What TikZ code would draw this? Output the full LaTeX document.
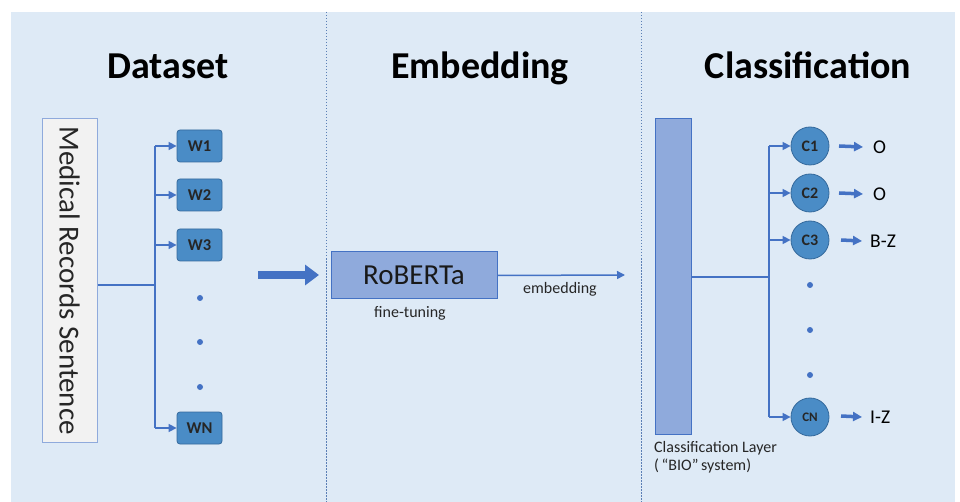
\documentclass[tikz,border=0pt]{standalone}
\usepackage{fontspec}
\setmainfont{Carlito}
\usetikzlibrary{arrows.meta}
\definecolor{bgblue}{HTML}{DEEAF6}
\definecolor{lineblue}{HTML}{4472C4}
\definecolor{boxfill}{HTML}{8FAADC}
\definecolor{wfill}{HTML}{4A8CC6}
\definecolor{wborder}{HTML}{34699C}
\definecolor{divider}{HTML}{5B7FB5}
\tikzset{
  title/.style={font=\bfseries\fontsize{38}{40}\selectfont, text=black, anchor=base},
  wbox/.style={draw=wborder, line width=0.8pt, fill=wfill, rounded corners=3pt, minimum width=45pt, minimum height=32pt, inner sep=0pt, font=\bfseries\fontsize{16.5}{17}\selectfont, text=black!85},
  cnode/.style={circle, draw=wborder, line width=0.8pt, fill=wfill, minimum size=38pt, inner sep=0pt, font=\bfseries\fontsize{16}{17}\selectfont, text=black!85},
  bus/.style={draw=lineblue, line width=1.5pt},
  busarrow/.style={draw=lineblue, line width=1.5pt, -{Triangle[length=8pt,width=8pt]}},
  thickarrow/.style={draw=lineblue, line width=3.5pt, -{Triangle[length=9pt,width=9pt]}},
  dotnode/.style={circle, fill=lineblue, inner sep=0pt, minimum size=6pt},
  lbl/.style={font=\fontsize{16}{18}\selectfont, text=black!85},
  outlbl/.style={font=\fontsize{19.5}{21}\selectfont, text=black, anchor=west, inner sep=0pt},
}
\begin{document}
\begin{tikzpicture}[x=1pt,y=-1pt]
\useasboundingbox (0,0) rectangle (960,502);
\fill[white] (0,0) rectangle (960,502);
\fill[bgblue] (11,12) rectangle (955,502);
\draw[divider, line width=1pt, dash pattern=on 1.5pt off 1.5pt] (326,12) -- (326,502);
\draw[divider, line width=1pt, dash pattern=on 1.5pt off 1.5pt] (641,12) -- (641,502);

% titles
\node[title] (t1) at (168,79) {Dataset};
\node[title] (t2) at (480,79) {Embedding};
\node[title] (t3) at (808,79) {Classification};

% Dataset
\node[draw=boxfill, line width=1pt, fill=white!95!black, minimum width=55pt, minimum height=323pt, inner sep=0pt] (mrs) at (69.5,280.5) {};
\node[rotate=-90, font=\fontsize{29}{31}\selectfont, text=black!85] (mrstext) at (mrs.center) {Medical Records Sentence};

\node[wbox] (w1) at (199.5,146) {W1};
\node[wbox] (w2) at (199.5,195) {W2};
\node[wbox] (w3) at (199.5,245) {W3};
\node[wbox] (wn) at (199.5,428) {WN};
\node[dotnode] (d1) at (200,298) {};
\node[dotnode] (d2) at (200,342) {};
\node[dotnode] (d3) at (200,387) {};

\coordinate (bj) at (155,285);
\coordinate (bt) at (155,146);
\coordinate (bb) at (155,428);
\draw[bus] (mrs.east |- bj) -- (bj);
\draw[bus] (bt) -- (bb);
\draw[busarrow] (bt) -- (w1.west);
\draw[busarrow] (155,195) -- (w2.west);
\draw[busarrow] (155,245) -- (w3.west);
\draw[busarrow] (bb) -- (wn.west);

% big arrow
\coordinate (ba1) at (258,275);
\coordinate (ba2) at (319,275);
\draw[draw=lineblue, line width=8pt, -{Triangle[length=14pt,width=20pt]}] (ba1) -- (ba2);

% Embedding
\node[draw=lineblue, line width=1pt, fill=boxfill, minimum width=166pt, minimum height=47pt, inner sep=0pt, font=\fontsize{29}{31}\selectfont, text=black!90] (rob) at (414,275.5) {RoBERTa};
\node[lbl] (ft) at (410,313) {fine-tuning};
\coordinate (embend) at (625,275);
\draw[busarrow] (rob.east) -- (embend);
\node[lbl] (emb) at (560,289) {embedding};

% Classification
\node[draw=lineblue, line width=1pt, fill=boxfill, minimum width=36pt, minimum height=315pt, inner sep=0pt] (cl) at (673,276.5) {};
\node[lbl, anchor=north west, align=left, inner sep=0pt] (cltext) at (654,441) {Classification Layer\\(\,“BIO”\,system)};

\node[cnode] (c1) at (810,146) {C1};
\node[cnode] (c2) at (810,193) {C2};
\node[cnode] (c3) at (810,240) {C3};
\node[cnode, font=\bfseries\fontsize{13}{14}\selectfont] (cn) at (810,417) {CN};
\node[dotnode] (e1) at (810,285) {};
\node[dotnode] (e2) at (810,330) {};
\node[dotnode] (e3) at (810,375) {};

\coordinate (cj) at (769,277);
\coordinate (ct) at (769,146);
\coordinate (cb) at (769,417);
\draw[bus] (cl.east |- cj) -- (cj);
\draw[bus] (ct) -- (cb);
\draw[busarrow] (ct) -- (c1.west);
\draw[busarrow] (769,193) -- (c2.west);
\draw[busarrow] (769,240) -- (c3.west);
\draw[busarrow] (cb) -- (cn.west);

\node[outlbl] (o1) at (873,147) {O};
\node[outlbl] (o2) at (873,194) {O};
\node[outlbl] (o3) at (870,241) {B-Z};
\node[outlbl] (o4) at (870,417) {I-Z};
\draw[thickarrow] (839,146) -- ([xshift=-10pt]o1.west);
\draw[thickarrow] (839,193) -- ([xshift=-10pt]o2.west);
\draw[thickarrow] (841,240) -- ([xshift=-8pt]o3.west);
\draw[thickarrow] (841,416) -- ([xshift=-8pt]o4.west);
\end{tikzpicture}
\end{document}
